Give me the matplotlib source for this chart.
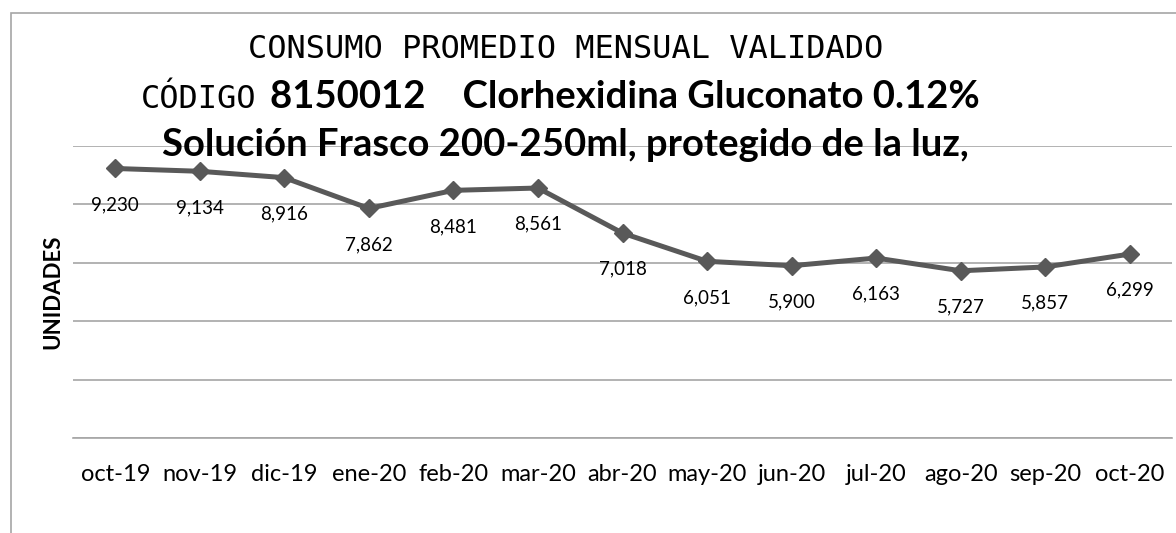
import matplotlib
matplotlib.use("Agg")
import matplotlib.pyplot as plt
from matplotlib.patches import Rectangle

# datos
meses = ['oct-19', 'nov-19', 'dic-19', 'ene-20', 'feb-20', 'mar-20', 'abr-20',
         'may-20', 'jun-20', 'jul-20', 'ago-20', 'sep-20', 'oct-20']
consumo = [9230, 9134, 8916, 7862, 8481, 8561, 7018,
           6051, 5900, 6163, 5727, 5857, 6299]

W, H = 1176, 533
fig = plt.figure(figsize=(W / 100, H / 100), dpi=100)

def fx(px):
    return px / W

def fy(py):
    return 1 - py / H

# marco del grafico
fig.patches.append(Rectangle((fx(11), fy(560)), fx(1200), fy(13) - fy(560),
                             transform=fig.transFigure, fill=False,
                             edgecolor='#a6a6a6', linewidth=1.2))

ax = fig.add_axes([fx(73), fy(438), fx(1172) - fx(73), fy(146) - fy(438)])
x = list(range(len(meses)))
ax.plot(x, consumo, color='#595959', linewidth=3.6, marker='D', markersize=9,
        clip_on=False, zorder=3)

for xi, v in zip(x, consumo):
    ax.annotate(f'{v:,}', (xi, v), xytext=(0, -26), textcoords='offset points',
                ha='center', va='center', fontsize=13.5, family='Lato')

ax.set_xlim(-0.5, len(meses) - 0.5)
ax.set_ylim(0, 10000)
ax.set_yticks(range(0, 10001, 2000))
ax.set_yticklabels([])
ax.tick_params(axis='y', length=0)
ax.grid(axis='y', color='#a6a6a6', linewidth=1.2)
ax.set_axisbelow(True)
ax.set_xticks(x)
ax.set_xticklabels(meses, family='Lato', fontsize=17)
ax.tick_params(axis='x', length=0, pad=19)
for s in ['top', 'right', 'left']:
    ax.spines[s].set_visible(False)
ax.spines['bottom'].set_color('#a6a6a6')
ax.spines['bottom'].set_linewidth(1.2)

fig.text(fx(53), fy(292), 'UNIDADES', rotation=90, ha='center', va='center',
         fontsize=16, fontweight='bold', family='Lato')

# titulo
fig.text(fx(566), fy(50), 'CONSUMO PROMEDIO MENSUAL VALIDADO', ha='center',
         va='center', fontsize=23, family='DejaVu Sans Mono')
fig.text(fx(256), fy(99), 'CÓDIGO', ha='right', va='center', fontsize=23,
         family='DejaVu Sans Mono')
fig.text(fx(270), fy(97), '8150012    Clorhexidina Gluconato 0.12%', ha='left',
         va='center', fontsize=27.5, fontweight='bold', family='Lato')
fig.text(fx(565), fy(145), 'Solución Frasco 200-250ml, protegido de la luz,',
         ha='center', va='center', fontsize=27.5, fontweight='bold', family='Lato')

fig.savefig('out.png', dpi=100)
